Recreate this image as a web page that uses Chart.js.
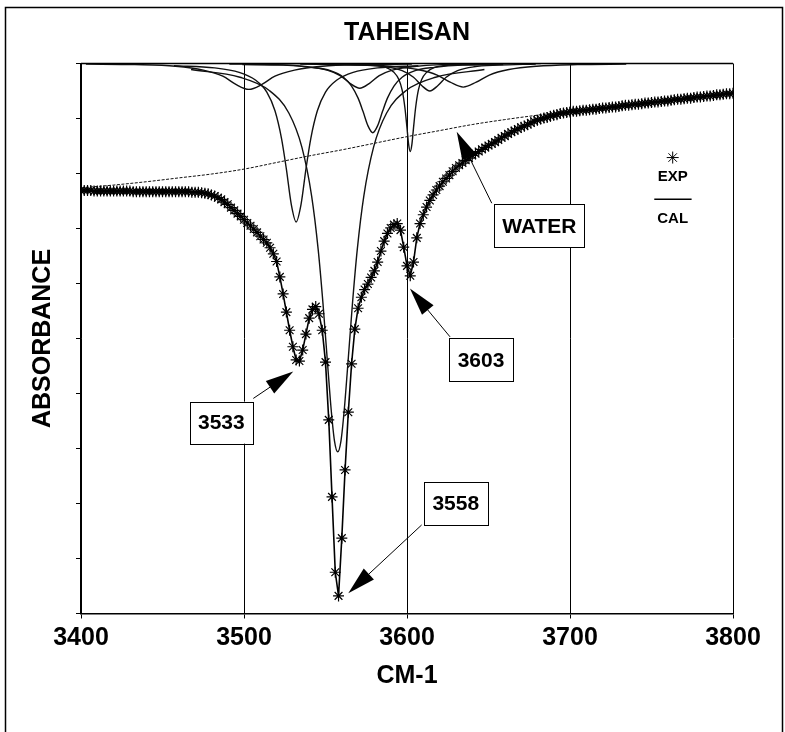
<!DOCTYPE html>
<html>
<head>
<meta charset="utf-8">
<title>TAHEISAN</title>
<script src="https://cdn.jsdelivr.net/npm/chart.js@4.4.1/dist/chart.umd.min.js"></script>
<style>
  body { margin: 0; background: #fff; }
</style>
</head>
<body>
<canvas id="myChart" width="785" height="732"></canvas>
<script>
"use strict";
const FONT = "'Liberation Sans', Arial, sans-serif";
const chartTitle = 'TAHEISAN';

// axis ticks
const xTickValues = [3400, 3500, 3600, 3700, 3800];
const yTickValues = [0, 1, 2, 3, 4, 5, 6, 7, 8, 9, 10];

// measured spectrum (EXP), one value every 2 cm-1 from 3400 to 3800
const startWave = 3400;
const waveStep = 2;
const expValues = [
  7.69, 7.69, 7.69, 7.69, 7.68, 7.68, 7.68, 7.68, 7.68, 7.68,
  7.68, 7.68, 7.68, 7.68, 7.68, 7.68, 7.67, 7.67, 7.67, 7.67,
  7.67, 7.67, 7.67, 7.67, 7.67, 7.67, 7.67, 7.67, 7.67, 7.67,
  7.67, 7.67, 7.67, 7.67, 7.66, 7.66, 7.66, 7.65, 7.64, 7.63,
  7.61, 7.59, 7.56, 7.53, 7.48, 7.44, 7.38, 7.33, 7.27, 7.22,
  7.16, 7.10, 7.05, 6.99, 6.93, 6.86, 6.80, 6.74, 6.65, 6.54,
  6.40, 6.12, 5.81, 5.48, 5.15, 4.85, 4.61, 4.59, 4.79, 5.08,
  5.37, 5.53, 5.58, 5.45, 5.15, 4.57, 3.52, 2.12, 0.75, 0.32,
  1.37, 2.61, 3.66, 4.54, 5.17, 5.55, 5.75, 5.89, 5.99, 6.11,
  6.23, 6.39, 6.59, 6.77, 6.91, 7.01, 7.07, 7.09, 6.97, 6.66,
  6.32, 6.14, 6.39, 6.83, 7.09, 7.25, 7.39, 7.51, 7.61, 7.70,
  7.77, 7.85, 7.91, 7.97, 8.04, 8.10, 8.15, 8.19, 8.24, 8.28,
  8.33, 8.36, 8.40, 8.44, 8.47, 8.51, 8.54, 8.57, 8.61, 8.65,
  8.68, 8.72, 8.75, 8.78, 8.81, 8.84, 8.86, 8.89, 8.92, 8.95,
  8.97, 8.99, 9.01, 9.02, 9.04, 9.06, 9.07, 9.09, 9.10, 9.11,
  9.12, 9.13, 9.13, 9.14, 9.15, 9.15, 9.16, 9.17, 9.17, 9.18,
  9.19, 9.19, 9.20, 9.21, 9.21, 9.22, 9.23, 9.24, 9.24, 9.25,
  9.26, 9.26, 9.27, 9.28, 9.28, 9.29, 9.30, 9.30, 9.31, 9.32,
  9.32, 9.33, 9.34, 9.35, 9.35, 9.36, 9.37, 9.37, 9.38, 9.39,
  9.39, 9.40, 9.41, 9.41, 9.42, 9.43, 9.43, 9.44, 9.45, 9.45,
  9.46
];

// water background line
const waterX = [3400, 3420, 3440, 3460, 3480, 3500, 3520, 3540, 3560, 3580, 3600, 3620, 3640, 3660, 3680, 3700, 3750, 3800];
const waterY = [7.74, 7.79, 7.85, 7.92, 7.99, 8.08, 8.20, 8.32, 8.43, 8.55, 8.67, 8.78, 8.89, 8.98, 9.06, 9.13, 9.29, 9.46];

// fitted component bands, hanging from the top of the plot
const band3503X = [3403, 3433, 3458, 3475, 3487, 3495, 3503, 3511, 3519, 3531, 3548, 3573, 3603];
const band3503Y = [9.99, 9.98, 9.95, 9.88, 9.77, 9.62, 9.53, 9.62, 9.77, 9.88, 9.95, 9.98, 9.99];
const band3532X = [3457, 3482, 3497, 3507, 3514, 3519, 3523, 3526, 3529, 3532, 3535, 3538, 3541, 3545, 3550, 3557, 3567, 3582, 3607];
const band3532Y = [9.96, 9.92, 9.84, 9.70, 9.48, 9.14, 8.64, 8.08, 7.44, 7.12, 7.44, 8.08, 8.64, 9.14, 9.48, 9.70, 9.84, 9.92, 9.96];
const band3557X = [3467.5, 3497.5, 3515.5, 3527.5, 3535.5, 3541.5, 3545.5, 3548.5, 3551.5, 3553.5, 3555.5, 3557.5,
                   3559.5, 3561.5, 3563.5, 3566.5, 3569.5, 3573.5, 3579.5, 3587.5, 3599.5, 3617.5, 3647.5];
const band3557Y = [9.89, 9.75, 9.51, 9.10, 8.48, 7.59, 6.62, 5.62, 4.45, 3.70, 3.14, 2.94,
                   3.14, 3.70, 4.45, 5.62, 6.62, 7.59, 8.48, 9.10, 9.51, 9.75, 9.89];
const band3571X = [3491, 3521, 3539, 3551, 3559, 3565, 3571, 3577, 3583, 3591, 3603, 3621, 3651];
const band3571Y = [9.99, 9.98, 9.94, 9.88, 9.78, 9.64, 9.55, 9.64, 9.78, 9.88, 9.94, 9.98, 9.99];
const band3579X = [3499, 3524, 3541, 3553, 3561, 3566, 3570, 3573, 3576, 3579, 3582, 3585, 3588, 3592, 3597, 3605, 3617, 3634, 3659];
const band3579Y = [9.98, 9.97, 9.93, 9.87, 9.75, 9.59, 9.37, 9.13, 8.87, 8.74, 8.87, 9.13, 9.37, 9.59, 9.75, 9.87, 9.93, 9.97, 9.98];
const band3602X = [3522, 3557, 3577, 3587, 3592, 3595, 3597, 3598.7, 3600, 3601, 3602, 3603, 3604, 3605.3, 3607, 3609, 3612, 3617, 3627, 3647, 3682];
const band3602Y = [10.0, 9.99, 9.97, 9.93, 9.84, 9.71, 9.52, 9.20, 8.83, 8.53, 8.40, 8.53, 8.83, 9.20, 9.52, 9.71, 9.84, 9.93, 9.97, 9.99, 10.0];
const band3614X = [3549, 3572, 3587, 3597, 3604, 3609, 3614, 3619, 3624, 3631, 3641, 3656, 3679];
const band3614Y = [9.99, 9.97, 9.94, 9.87, 9.75, 9.60, 9.50, 9.60, 9.75, 9.87, 9.94, 9.97, 9.99];
const band3634X = [3534.5, 3564.5, 3589.5, 3606.5, 3618.5, 3626.5, 3634.5, 3642.5, 3650.5, 3662.5, 3679.5, 3704.5, 3734.5];
const band3634Y = [9.99, 9.98, 9.95, 9.89, 9.79, 9.66, 9.57, 9.66, 9.79, 9.89, 9.95, 9.98, 9.99];

const bandsX = [band3503X, band3532X, band3557X, band3571X, band3579X, band3602X, band3614X, band3634X];
const bandsY = [band3503Y, band3532Y, band3557Y, band3571Y, band3579Y, band3602Y, band3614Y, band3634Y];

// callout boxes (box centre, arrow tail and tip in chart units)
const callouts = [
  { text: '3533', x: 3486.1, y: 3.47, w: 63, h: 42, tailX: 3505.7, tailY: 3.91, tipX: 3530.2, tipY: 4.40 },
  { text: '3558', x: 3629.9, y: 2.00, w: 64, h: 43, tailX: 3609.0, tailY: 1.61, tipX: 3564.0, tipY: 0.37 },
  { text: '3603', x: 3645.4, y: 4.61, w: 64, h: 43, tailX: 3626.4, tailY: 5.03, tipX: 3601.8, tipY: 5.91 },
  { text: 'WATER', x: 3681.2, y: 7.05, w: 90, h: 43, tailX: 3652.0, tailY: 7.46, tipX: 3630.5, tipY: 8.76 }
];

let wavenumbers = [];
for (let i = 0; i < expValues.length; i++) {
    wavenumbers.push(startWave + waveStep * i);
}

function pts(xs, ys) {
    return xs.map((x, i) => ({ x: x, y: ys[i] }));
}

let datasets = [];
datasets.push({
    label: 'EXP',
    data: pts(wavenumbers, expValues),
    showLine: false,
    pointStyle: 'star',
    pointRadius: 5.5,
    pointBorderWidth: 1.2,
    pointBorderColor: '#000',
    pointBackgroundColor: 'rgba(0,0,0,0)',
    order: 0
});
datasets.push({
    label: 'CAL',
    data: pts(wavenumbers, expValues),
    showLine: true,
    borderColor: '#000',
    borderWidth: 1.6,
    pointRadius: 0,
    order: 1
});
datasets.push({
    label: 'WATER',
    data: pts(waterX, waterY),
    showLine: true,
    borderColor: '#111',
    borderWidth: 1,
    borderDash: [3, 1.5],
    cubicInterpolationMode: 'monotone',
    pointRadius: 0,
    order: 2
});
for (let b = 0; b < bandsX.length; b++) {
    datasets.push({
        label: 'band' + b,
        data: pts(bandsX[b], bandsY[b]),
        showLine: true,
        borderColor: '#111',
        borderWidth: 1.4,
        cubicInterpolationMode: 'monotone',
        pointRadius: 0,
        order: 3
    });
}

function drawArrow(ctx, x1, y1, x2, y2) {
    const ang = Math.atan2(y2 - y1, x2 - x1);
    const len = 28, half = 7.5;
    const bx = x2 - len * Math.cos(ang), by = y2 - len * Math.sin(ang);
    ctx.beginPath();
    ctx.moveTo(x1, y1);
    ctx.lineTo(bx, by);
    ctx.stroke();
    ctx.beginPath();
    ctx.moveTo(x2, y2);
    ctx.lineTo(bx + half * Math.sin(ang), by - half * Math.cos(ang));
    ctx.lineTo(bx - half * Math.sin(ang), by + half * Math.cos(ang));
    ctx.closePath();
    ctx.fill();
}

const overlay = {
    id: 'overlay',
    afterDraw(chart) {
        const { ctx, chartArea, scales } = chart;
        const sx = scales.x, sy = scales.y;
        ctx.save();
        ctx.strokeStyle = '#000';
        ctx.fillStyle = '#000';

        // page frame
        ctx.lineWidth = 1.5;
        ctx.beginPath();
        ctx.moveTo(5.5, 732);
        ctx.lineTo(5.5, 7.5);
        ctx.lineTo(782.5, 7.5);
        ctx.lineTo(782.5, 732);
        ctx.stroke();

        // top edge of the plot box
        ctx.beginPath();
        ctx.moveTo(chartArea.left, chartArea.top);
        ctx.lineTo(chartArea.right, chartArea.top);
        ctx.stroke();

        // title, centred over the plot box
        ctx.textAlign = 'center';
        ctx.textBaseline = 'middle';
        ctx.font = 'bold 25px ' + FONT;
        ctx.fillText(chartTitle, (chartArea.left + chartArea.right) / 2, 33);

        // callouts
        ctx.lineWidth = 1;
        ctx.font = 'bold 21px ' + FONT;
        callouts.forEach(c => {
            drawArrow(ctx, sx.getPixelForValue(c.tailX), sy.getPixelForValue(c.tailY),
                      sx.getPixelForValue(c.tipX), sy.getPixelForValue(c.tipY));
            const cx = sx.getPixelForValue(c.x), cy = sy.getPixelForValue(c.y);
            ctx.fillStyle = '#fff';
            ctx.fillRect(cx - c.w / 2, cy - c.h / 2, c.w, c.h);
            ctx.strokeRect(Math.round(cx - c.w / 2) + 0.5, Math.round(cy - c.h / 2) + 0.5, c.w, c.h);
            ctx.fillStyle = '#000';
            ctx.fillText(c.text, cx, cy + 1);
        });

        // legend
        const lx = sx.getPixelForValue(3763);
        Chart.helpers.drawPoint(ctx, { pointStyle: 'star', radius: 6, borderWidth: 1, rotation: 0 },
                                lx, sy.getPixelForValue(8.29));
        ctx.font = 'bold 15px ' + FONT;
        ctx.fillText('EXP', lx, sy.getPixelForValue(7.94));
        ctx.lineWidth = 1.5;
        ctx.beginPath();
        ctx.moveTo(sx.getPixelForValue(3751.7), sy.getPixelForValue(7.53));
        ctx.lineTo(sx.getPixelForValue(3774.6), sy.getPixelForValue(7.53));
        ctx.stroke();
        ctx.fillText('CAL', lx, sy.getPixelForValue(7.17));
        ctx.restore();
    }
};

const config = {
    type: 'scatter',
    data: { datasets: datasets },
    options: {
        responsive: false,
        animation: false,
        devicePixelRatio: 1,
        layout: { padding: { left: 0, right: 52, top: 63.5, bottom: 0 } },
        plugins: {
            legend: { display: false },
            tooltip: { enabled: false },
            title: { display: false }
        },
        scales: {
            x: {
                type: 'linear',
                min: 3400,
                max: 3800,
                afterBuildTicks: s => { s.ticks = xTickValues.map(v => ({ value: v })); },
                afterFit: s => { s.height = 118.5; },
                ticks: {
                    color: '#000',
                    padding: 4.5,
                    maxRotation: 0,
                    font: { family: FONT, size: 25, weight: 'bold' },
                    callback: v => String(v)
                },
                grid: { color: '#000', lineWidth: 1, tickLength: 5 },
                border: { color: '#000', width: 1.5 },
                title: {
                    display: true,
                    text: 'CM-1',
                    color: '#000',
                    font: { family: FONT, size: 25, weight: 'bold' },
                    padding: { top: 2, bottom: 41 }
                }
            },
            y: {
                type: 'linear',
                min: 0,
                max: 10,
                afterBuildTicks: s => { s.ticks = yTickValues.map(v => ({ value: v })); },
                afterFit: s => { s.width = 81; },
                ticks: { display: false },
                grid: { drawOnChartArea: false, color: '#000', tickLength: 5 },
                border: { color: '#000', width: 1.5 },
                title: {
                    display: true,
                    text: 'ABSORBANCE',
                    color: '#000',
                    font: { family: FONT, size: 25, weight: 'bold' },
                    padding: { top: 28.5 }
                }
            }
        }
    },
    plugins: [overlay]
};

let canvasChart = document.getElementById('myChart');
const myChart = new Chart(canvasChart, config);
</script>
</body>
</html>
